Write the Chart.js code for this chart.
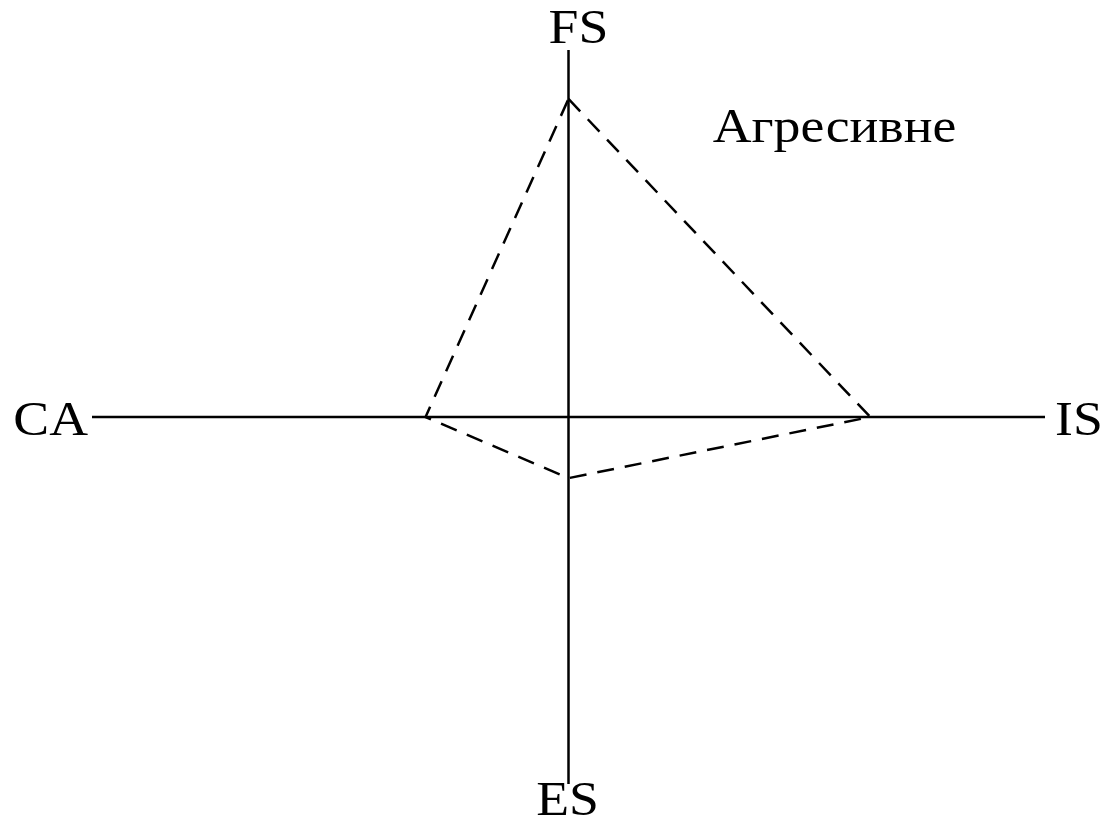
<!DOCTYPE html>
<html>
<head>
<meta charset="utf-8">
<script src="https://cdn.jsdelivr.net/npm/chart.js@4/dist/chart.umd.min.js"></script>
<style>
  html, body { margin: 0; padding: 0; background: #fff; }
  #wrap { width: 1109px; height: 823px; }
</style>
</head>
<body>
<div id="wrap"><canvas id="spaceChart"></canvas></div>
<script>
// SPACE matrix: axis names and the value read on each axis
const axisNames = ['FS', 'IS', 'ES', 'CA'];
const axisValues = [5.2, 3.8, -1.0, -1.8];
const axisLimit = 6;
const strategyLabel = 'Агресивне';
const strategyPos = [3.35, 4.5];

// polygon FS -> IS -> ES -> CA -> FS
const polygon = [
    {x: 0, y: axisValues[0]},
    {x: axisValues[1], y: 0},
    {x: 0, y: axisValues[2]},
    {x: axisValues[3], y: 0},
    {x: 0, y: axisValues[0]}
];

const FONT = '48px "Liberation Serif", "Times New Roman", serif';
const STRETCH = 1.12;

function stretchedText(ctx, text, x, y, align) {
    ctx.save();
    ctx.translate(x, y);
    ctx.scale(STRETCH, 1);
    ctx.textAlign = align;
    ctx.fillText(text, 0, 0);
    ctx.restore();
}

const labelPlugin = {
    id: 'spaceLabels',
    afterDraw(chart) {
        const ctx = chart.ctx;
        const xs = chart.scales.x, ys = chart.scales.y;
        const cx = xs.getPixelForValue(0), cy = ys.getPixelForValue(0);
        const top = ys.getPixelForValue(axisLimit), bottom = ys.getPixelForValue(-axisLimit);
        const left = xs.getPixelForValue(-axisLimit), right = xs.getPixelForValue(axisLimit);
        ctx.save();
        ctx.fillStyle = '#000';
        ctx.font = FONT;
        ctx.textBaseline = 'alphabetic';
        stretchedText(ctx, axisNames[0], cx + 10, top - 7, 'center');
        stretchedText(ctx, axisNames[1], right + 10, cy + 18, 'left');
        stretchedText(ctx, axisNames[2], cx - 1, bottom + 31, 'center');
        stretchedText(ctx, axisNames[3], left - 4, cy + 18, 'right');
        stretchedText(ctx, strategyLabel, xs.getPixelForValue(strategyPos[0]), ys.getPixelForValue(strategyPos[1]), 'center');
        ctx.restore();
    }
};

new Chart(document.getElementById('spaceChart').getContext('2d'), {
    type: 'scatter',
    data: {
        datasets: [
            {data: [{x: -axisLimit, y: 0}, {x: axisLimit, y: 0}], showLine: true, borderColor: '#000', borderWidth: 2.5, pointRadius: 0},
            {data: [{x: 0, y: -axisLimit}, {x: 0, y: axisLimit}], showLine: true, borderColor: '#000', borderWidth: 2.5, pointRadius: 0},
            {data: polygon, showLine: true, borderColor: '#000', borderWidth: 2.5, borderDash: [17, 11], pointRadius: 0, fill: false}
        ]
    },
    options: {
        responsive: true,
        maintainAspectRatio: false,
        animation: false,
        layout: {padding: {left: 92, right: 64, top: 50, bottom: 39}},
        plugins: {legend: {display: false}, tooltip: {enabled: false}},
        scales: {
            x: {type: 'linear', min: -axisLimit, max: axisLimit, display: false},
            y: {type: 'linear', min: -axisLimit, max: axisLimit, display: false}
        }
    },
    plugins: [labelPlugin]
});
</script>
</body>
</html>
